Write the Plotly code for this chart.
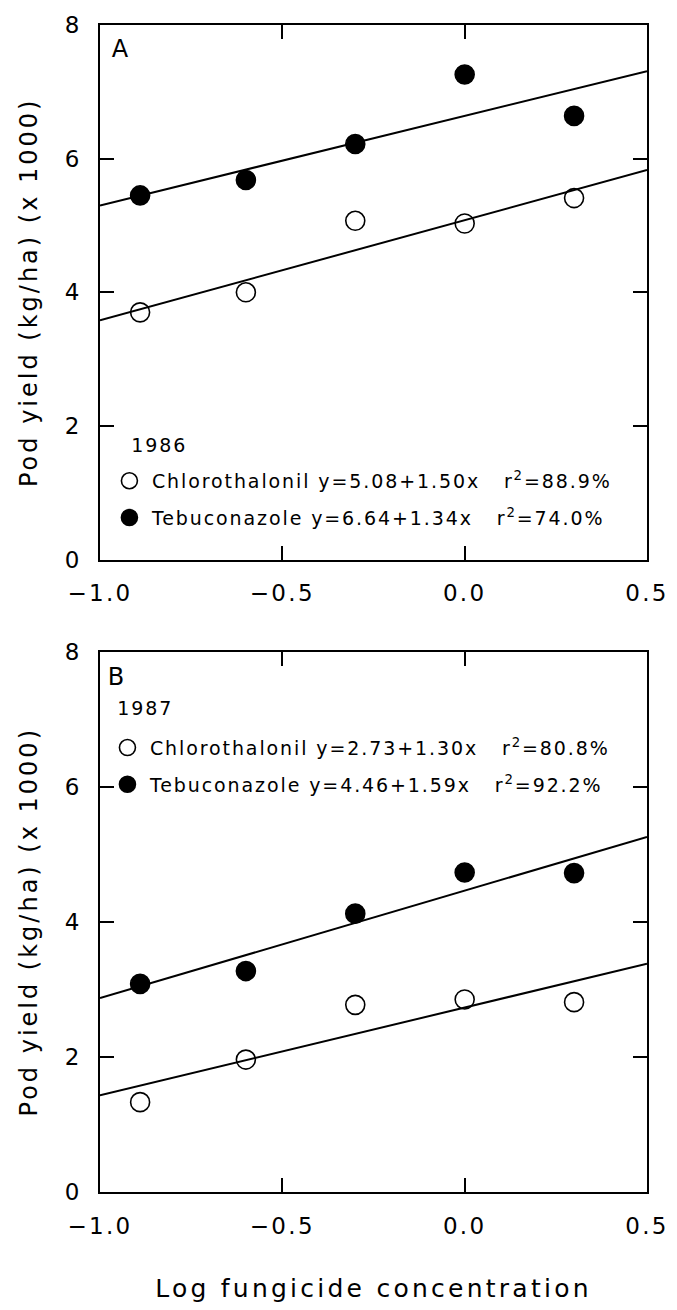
import plotly.graph_objects as go

# ---- data ----
X_LOGCONC = [-0.89, -0.60, -0.30, 0.00, 0.30]

A_CHLORO = [3.70, 4.00, 5.07, 5.03, 5.41]
A_TEBU = [5.45, 5.68, 6.22, 7.26, 6.64]
B_CHLORO = [1.33, 1.96, 2.77, 2.85, 2.81]
B_TEBU = [3.08, 3.27, 4.12, 4.73, 4.72]

FUNGICIDES = ["Chlorothalonil", "Tebuconazole"]
YEARS = ["1986", "1987"]
PANELS = ["A", "B"]
INTERCEPT_A = [5.08, 6.64]
SLOPE_A = [1.50, 1.34]
R2_A = [88.9, 74.0]
INTERCEPT_B = [2.73, 4.46]
SLOPE_B = [1.30, 1.59]
R2_B = [80.8, 92.2]

X_RANGE = [-1.0, 0.5]
Y_RANGE = [0, 8]
X_TICKS = [-1.0, -0.5, 0.0, 0.5]
Y_TICKS = [0, 2, 4, 6, 8]

FONT = "DejaVu Sans"

fig = go.Figure()

panels = [
    ("x", "y", "legend", [A_CHLORO, A_TEBU], INTERCEPT_A, SLOPE_A, R2_A),
    ("x2", "y2", "legend2", [B_CHLORO, B_TEBU], INTERCEPT_B, SLOPE_B, R2_B),
]
symbols = ["circle-open", "circle"]

for xa, ya, lg, series, icpt, slp, r2 in panels:
    for i, name in enumerate(FUNGICIDES):
        # fitted regression line from the printed equation
        fig.add_trace(go.Scatter(
            x=X_RANGE, y=[icpt[i] + slp[i] * v for v in X_RANGE],
            mode="lines", line=dict(color="black", width=2),
            xaxis=xa, yaxis=ya, showlegend=False, hoverinfo="skip"))
    for i, name in enumerate(FUNGICIDES):
        label = (f"{name} y={icpt[i]:.2f}+{slp[i]:.2f}x\u00a0\u00a0\u00a0"
                 f"r<sup>2</sup>={r2[i]:.1f}%")
        fig.add_trace(go.Scatter(
            x=X_LOGCONC, y=series[i], mode="markers", name=label,
            marker=dict(symbol=symbols[i], size=19, color="black",
                        line=dict(color="black", width=1.6)),
            xaxis=xa, yaxis=ya, legend=lg, legendgroup=f"{lg}{i}"))

axis_common = dict(
    showline=True, linewidth=2, linecolor="black", mirror="ticks",
    ticks="inside", ticklen=14, tickwidth=1.5, tickcolor="black",
    showgrid=False, zeroline=False,
    tickfont=dict(family=FONT, size=23, color="black"),
)

PLOT_TOP = 23
PLOT_BOTTOM = 1217
H = 1310
area = PLOT_BOTTOM - PLOT_TOP


def py(p):
    return (PLOT_BOTTOM - p) / area


ytitle = dict(text="Pod yield (kg/ha) (x 1000)",
              font=dict(family=FONT, size=24, color="black"), standoff=20)

legend_common = dict(
    xanchor="left", yanchor="top",
    font=dict(family=FONT, size=19, color="black"),
    bgcolor="rgba(0,0,0,0)", tracegroupgap=9, traceorder="grouped",
    itemwidth=35,
)

fig.update_layout(
    width=677, height=H,
    margin=dict(l=100, r=24, t=PLOT_TOP, b=H - PLOT_BOTTOM),
    paper_bgcolor="white", plot_bgcolor="white",
    font=dict(family=FONT, color="black"),
    xaxis=dict(domain=[0, 1], anchor="y", range=X_RANGE, tickvals=X_TICKS,
               tickformat=".1f", ticklabelstandoff=12, **axis_common),
    yaxis=dict(domain=[py(570), 1], anchor="x", range=Y_RANGE, tickvals=Y_TICKS,
               ticklabelstandoff=14, title=ytitle, **axis_common),
    xaxis2=dict(domain=[0, 1], anchor="y2", range=X_RANGE, tickvals=X_TICKS,
                tickformat=".1f", ticklabelstandoff=12,
                title=dict(text="Log fungicide concentration",
                           font=dict(family=FONT, size=25, color="black"),
                           standoff=42),
                **axis_common),
    yaxis2=dict(domain=[0, py(664)], anchor="x2", range=Y_RANGE, tickvals=Y_TICKS,
                ticklabelstandoff=14, title=ytitle, **axis_common),
    legend=dict(x=(107 - 100) / 553, y=py(470), **legend_common),
    legend2=dict(x=(105 - 100) / 553, y=py(743), **legend_common),
    annotations=[
        dict(text=PANELS[0], xref="x domain", yref="y domain", x=0.02, y=0.985,
             xanchor="left", yanchor="top", showarrow=False,
             font=dict(family=FONT, size=24, color="black")),
        dict(text=PANELS[1], xref="x2 domain", yref="y2 domain", x=0.013, y=0.983,
             xanchor="left", yanchor="top", showarrow=False,
             font=dict(family=FONT, size=24, color="black")),
        dict(text=YEARS[0], xref="paper", yref="paper", x=(133 - 100) / 553,
             y=py(453), xanchor="left", yanchor="middle", showarrow=False,
             font=dict(family=FONT, size=19, color="black")),
        dict(text=YEARS[1], xref="paper", yref="paper", x=(119 - 100) / 553,
             y=py(722), xanchor="left", yanchor="middle", showarrow=False,
             font=dict(family=FONT, size=19, color="black")),
    ],
)

# the original lettering is widely tracked; widen the letter spacing of the texts
POST_JS = """
var gd = document.getElementById('{plot_id}');
function applyTracking() {
  gd.querySelectorAll('text').forEach(function(t){
    if (t.closest('.ytick, .y2tick')) return;
    t.style.letterSpacing = '0.1em';
  });
  gd.querySelectorAll('text.ytitle, text.y2title').forEach(function(t){
    t.style.letterSpacing = '0.125em';
  });
  gd.querySelectorAll('text.x2title').forEach(function(t){
    t.style.letterSpacing = '0.13em';
  });
  gd.querySelectorAll('g[class^="legend"] [clip-path], g.scrollbox').forEach(function(e){
    e.removeAttribute('clip-path');
  });
}
applyTracking();
setTimeout(applyTracking, 30);
setTimeout(applyTracking, 200);
gd.on('plotly_afterplot', applyTracking);
"""

fig.write_html("out.html", post_script=POST_JS)
